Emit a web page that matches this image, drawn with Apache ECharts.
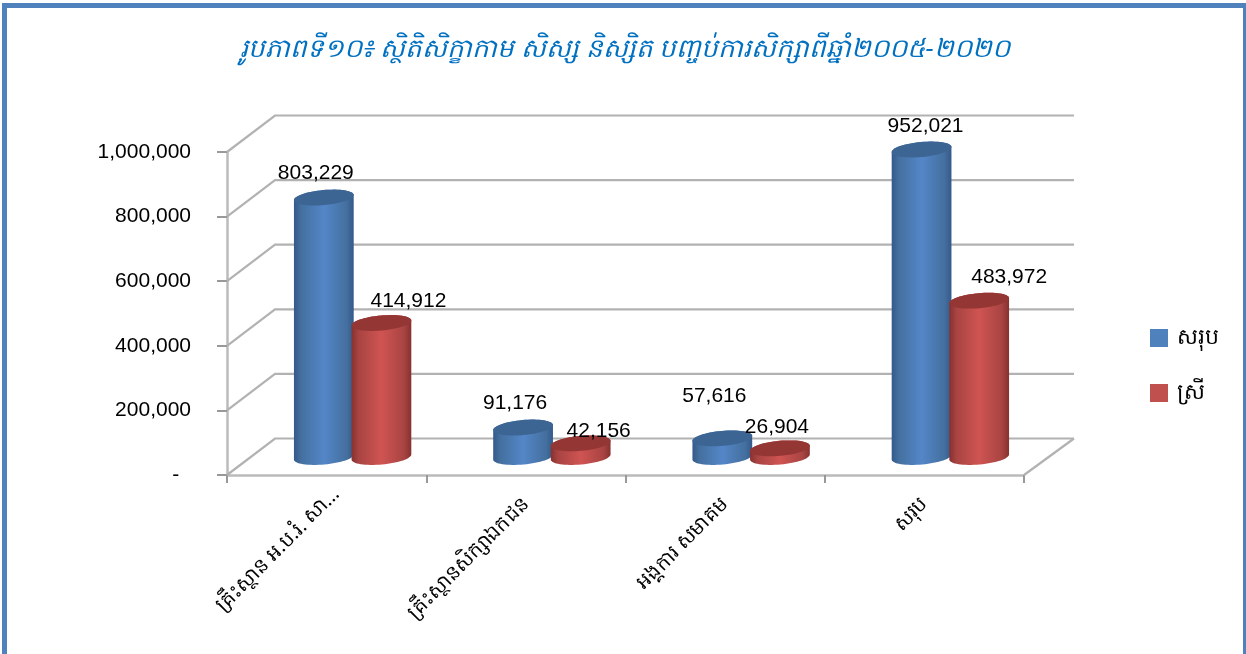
<!DOCTYPE html>
<html><head><meta charset="utf-8">
<style>html,body{margin:0;padding:0;background:#fff}#c{width:1246px;height:654px}</style>
<script src="https://cdn.jsdelivr.net/npm/echarts@6/dist/echarts.min.js"></script>
</head><body><div id="c"></div>
<script>
const titleText = 'រូបភាពទី១០៖ ស្ថិតិសិក្ខាកាម សិស្ស និស្សិត បញ្ចប់ការសិក្សាពីឆ្នាំ២០០៥-២០២០';
const categories = ['គ្រឹះស្ថាន អ.ប.រំ. សា...', 'គ្រឹះស្ថានសិក្សាឯកជន', 'អង្គការ សមាគម', 'សរុប'];
const seriesNames = ['សរុប', 'ស្រី'];
const totalValues = [803229, 91176, 57616, 952021];
const femaleValues = [414912, 42156, 26904, 483972];
const yTicks = [0, 200000, 400000, 600000, 800000, 1000000];

// label nudges relative to each cylinder's top centre (layout only)
const totalLabelNudge = [[-8, -24], [-8, -24], [-8, -42], [4, -23]];
const femaleLabelNudge = [[27, -22], [18, -12], [-3, -21], [30, -23]];

const DEPTH_X = 48, DEPTH_Y = -36.5;
const BAR_DX = 26, BAR_DY = -18, HALF_GAP = 28.8, R = 30, RY = 7.5, TILT = -0.09;
const FONT = '"Liberation Sans", Arial, sans-serif';
const KH = '"Noto Sans", "DejaVu Sans", "Liberation Sans", sans-serif';
const GRID = '#b2b2b2';

function ell(cx, cy, t) {
  const c = Math.cos(t), s = Math.sin(t), cp = Math.cos(TILT), sp = Math.sin(TILT);
  return [cx + R * c * cp - RY * s * sp, cy + R * c * sp + RY * s * cp];
}
function cylinder(side, colors, nudges) {
  return function (params, api) {
    const i = api.value(0), v = api.value(1);
    const base = api.coord([i, 0]), top = api.coord([i, v]);
    const cx = base[0] + BAR_DX + side * HALF_GAP;
    const by = base[1] + BAR_DY, ty = top[1] + BAR_DY;
    const pts = [];
    for (let k = 0; k <= 32; k++) pts.push(ell(cx, by, Math.PI * k / 32));
    for (let k = 0; k <= 32; k++) pts.push(ell(cx, ty, Math.PI + Math.PI * k / 32));
    const capPts = [];
    for (let k = 0; k < 64; k++) capPts.push(ell(cx, ty, 2 * Math.PI * k / 64));
    const grad = new echarts.graphic.LinearGradient(0, 0, 1, 0, [
      { offset: 0, color: colors[0] }, { offset: 0.12, color: colors[1] },
      { offset: 0.5, color: colors[2] }, { offset: 0.88, color: colors[1] },
      { offset: 1, color: colors[0] }]);
    const n = nudges[i];
    return { type: 'group', children: [
      { type: 'polygon', shape: { points: pts }, style: { fill: grad } },
      { type: 'polygon', shape: { points: capPts }, style: { fill: colors[3] } },
      { type: 'text', z2: 10, style: { text: v.toLocaleString('en-US'), x: cx + n[0], y: ty + n[1],
        align: 'center', verticalAlign: 'middle', font: '21px ' + FONT, fill: '#000' } }
    ]};
  };
}
function walls(params, api) {
  const v = api.value(1);
  const y = api.coord([0, v])[1];
  const cs = params.coordSys;
  const x0 = cs.x, x1 = cs.x + cs.width;
  const ls = { stroke: GRID, lineWidth: 2.2, fill: 'none' };
  const ch = [{ type: 'polyline', shape: { points: [[x0, y], [x0 + DEPTH_X, y + DEPTH_Y], [x1 + DEPTH_X + 2, y + DEPTH_Y]] }, style: ls }];
  if (v === 0) ch.push({ type: 'polyline', shape: { points: [[x1 + DEPTH_X + 2, y + DEPTH_Y], [x1, y]] }, style: ls });
  return { type: 'group', children: ch };
}

const chart = echarts.init(document.getElementById('c'), null, { renderer: 'canvas' });
chart.setOption({
  animation: false,
  backgroundColor: '#fff',
  title: { text: titleText, left: 620, textAlign: 'center', top: 32,
    textStyle: { color: '#0070c0', fontSize: 26, fontStyle: 'italic', fontWeight: 'normal', fontFamily: KH } },
  legend: { orient: 'vertical', left: 1145, top: 322, itemWidth: 18, itemHeight: 18, itemGap: 33,
    data: seriesNames.map(n => ({ name: n, icon: 'rect' })),
    selectedMode: false,
    textStyle: { fontSize: 22, color: '#000', fontFamily: KH, padding: [0, 0, 0, 4] }, itemStyle: { borderWidth: 0 } },
  graphic: [
    { type: 'rect', silent: true, shape: { x: 2, y: 3, width: 1244, height: 5 }, style: { fill: '#4f81bd' } },
    { type: 'rect', silent: true, shape: { x: 2, y: 3, width: 5, height: 651 }, style: { fill: '#4f81bd' } },
    { type: 'rect', silent: true, shape: { x: 1243, y: 3, width: 3, height: 651 }, style: { fill: '#4f81bd' } }
  ],
  grid: { left: 227, right: 222, top: 152, bottom: 179 },
  xAxis: { type: 'category', boundaryGap: true,
    // the truncated first label sits further along its own diagonal in the reference
    data: categories.map((c, i) => i === 0 ? { value: c, textStyle: { align: 'center', padding: [0, 138, 0, 0] } } : c),
    axisLine: { lineStyle: { color: '#bbbbbb', width: 2.5 } },
    axisTick: { show: true, length: 8, inside: false, lineStyle: { color: '#999999', width: 2 } },
    axisLabel: { rotate: 45, interval: 0, margin: 26, fontSize: 20, color: '#000', fontFamily: KH } },
  yAxis: { type: 'value', min: 0, max: 1000000, interval: 200000,
    axisLine: { show: true, lineStyle: { color: '#bbbbbb', width: 2.5 } },
    axisTick: { show: true, length: 10, lineStyle: { color: '#999999', width: 2 } },
    splitLine: { show: false },
    axisLabel: { margin: 36, fontSize: 21, color: '#000', fontFamily: FONT,
      formatter: v => v === 0 ? '-  ' : v.toLocaleString('en-US') } },
  series: [
    { type: 'custom', name: 'walls', silent: true, z: 1, clip: false, encode: { x: 0, y: 1 },
      data: yTicks.map(t => [0, t]), renderItem: walls },
    { type: 'custom', name: seriesNames[0], silent: true, z: 3, clip: false, encode: { x: 0, y: 1 },
      itemStyle: { color: '#4f81bd' },
      data: totalValues.map((v, i) => [i, v]),
      renderItem: cylinder(-1, ['#34598a', '#44709f', '#5486c8', '#3c6594'], totalLabelNudge) },
    { type: 'custom', name: seriesNames[1], silent: true, z: 4, clip: false, encode: { x: 0, y: 1 },
      itemStyle: { color: '#c0504d' },
      data: femaleValues.map((v, i) => [i, v]),
      renderItem: cylinder(1, ['#863130', '#a84442', '#cf5452', '#943634'], femaleLabelNudge) }
  ]
});
</script></body></html>
